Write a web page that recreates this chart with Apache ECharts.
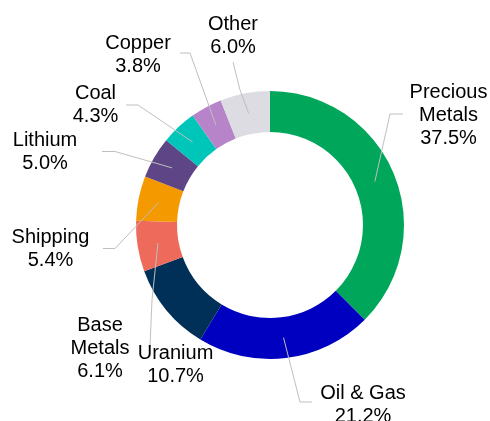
<!DOCTYPE html>
<html>
<head>
<meta charset="utf-8">
<script src="https://cdn.jsdelivr.net/npm/echarts@6/dist/echarts.min.js"></script>
<style>
html,body{margin:0;padding:0;background:#fff;}
#chart{width:490px;height:421px;}
</style>
</head>
<body>
<div id="chart"></div>
<script>
// Data
const categories = ['Precious\nMetals', 'Oil & Gas', 'Uranium', 'Base\nMetals', 'Shipping', 'Lithium', 'Coal', 'Copper', 'Other'];
const shares = [37.5, 21.2, 10.7, 6.1, 5.4, 5.0, 4.3, 3.8, 6.0];
const colors = ['#00A65A', '#0000C0', '#003057', '#EE6A5A', '#F49A00', '#5E4585', '#00C6BA', '#B784CA', '#DCDCE2'];

// Layout (label placement, not data)
const CX = 270, CY = 225, R_IN = 93, R_OUT = 134;
const labelPos = [[448.5, 115], [363, 404.5], [175.5, 365], [100, 348], [50.5, 248.5], [45, 152], [95.5, 104.5], [138, 54.5], [233, 35.5]];
const lineTail = [
  [[390, 114], [403, 114]],
  [[300, 402], [312, 402]],
  null,
  [[152, 300], [150, 346]],
  [[115, 248.5], [103, 248.5]],
  [[115, 151.5], [102, 151.5]],
  [[138, 105], [126, 105]],
  [[190, 53], [180, 53]],
  [[240, 90], [233, 62]]
];

const total = shares.reduce((a, b) => a + b, 0);
function midPoint(i) {
  let before = 0;
  for (let k = 0; k < i; k++) before += shares[k];
  const theta = (before + shares[i] / 2) / total * 2 * Math.PI;
  const r = (R_IN + R_OUT) / 2;
  return [CX + r * Math.sin(theta), CY - r * Math.cos(theta)];
}

const common = {
  type: 'pie',
  center: [CX, CY],
  radius: [R_IN, R_OUT],
  startAngle: 90,
  clockwise: true,
  avoidLabelOverlap: false,
  emphasis: {disabled: true},
  silent: true
};

const chart = echarts.init(document.getElementById('chart'), null, {renderer: 'canvas'});
chart.setOption({
  backgroundColor: '#ffffff',
  animation: false,
  series: [
    Object.assign({}, common, {
      z: 2,
      data: categories.map((name, i) => ({
        name: name,
        value: shares[i],
        itemStyle: {color: colors[i]}
      })),
      itemStyle: {borderWidth: 0},
      label: {show: false},
      labelLine: {show: false}
    }),
    Object.assign({}, common, {
      z: 5,
      data: categories.map((name, i) => ({
        name: name,
        value: shares[i],
        itemStyle: {color: 'rgba(0,0,0,0)'},
        labelLine: {show: lineTail[i] !== null}
      })),
      itemStyle: {borderWidth: 0},
      label: {
        show: true,
        position: 'outside',
        formatter: p => p.name + '\n' + p.value.toFixed(1) + '%',
        fontFamily: 'Liberation Sans, Arial, sans-serif',
        fontSize: 20,
        lineHeight: 23,
        color: '#000000',
        align: 'center'
      },
      labelLine: {
        show: true,
        lineStyle: {color: '#BFBFBF', width: 1}
      },
      labelLayout: function (params) {
        const i = params.dataIndex;
        const out = {
          x: labelPos[i][0],
          y: labelPos[i][1],
          align: 'center',
          verticalAlign: 'middle'
        };
        if (lineTail[i]) {
          out.labelLinePoints = [midPoint(i), lineTail[i][0], lineTail[i][1]];
        }
        return out;
      }
    })
  ]
});
</script>
</body>
</html>
